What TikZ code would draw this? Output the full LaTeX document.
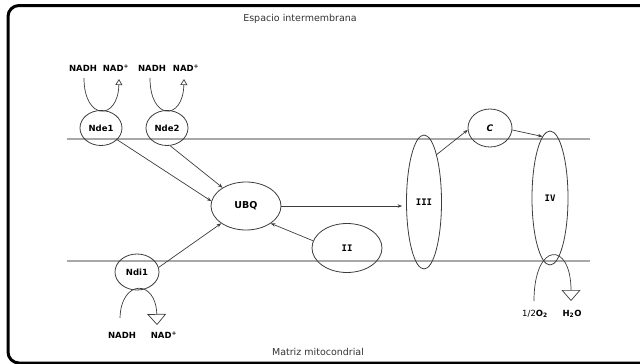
\documentclass[tikz,border=0pt]{standalone}
\usepackage{fontspec}
\setmainfont{DejaVu Sans}
\newfontfamily\monob{DejaVu Sans Mono}
\usetikzlibrary{shapes.geometric,arrows.meta}
\definecolor{linec}{HTML}{3C3C3C}
\definecolor{membc}{HTML}{A8A8A8}
\begin{document}
\begin{tikzpicture}[x=1pt,y=-1pt,
  cpx/.style={ellipse, draw=linec, line width=0.8pt, inner sep=0pt,
    font=\fontsize{8.5}{10}\selectfont\bfseries, text=black},
  lbl/.style={font=\fontsize{8.5}{10}\selectfont\bfseries, inner sep=0pt, text=black},
  small/.style={font=\fontsize{9.5}{11}\selectfont, inner sep=0pt, text=black!80},
  conn/.style={draw=linec, line width=0.7pt, -{Stealth[length=4.5pt,width=3.5pt]}},
  loopsm/.style={draw=linec, line width=0.7pt, -{Triangle[open,length=6pt,width=7pt,fill=white]}},
  loopbig/.style={draw=linec, line width=0.7pt, -{Triangle[open,length=11pt,width=19pt,fill=white]}},
  memb/.style={draw=membc, line width=2pt}
]
\useasboundingbox (0,0) rectangle (640,364);
\begin{scope}
\clip (0,0) rectangle (640,364);
\draw[line width=3pt, rounded corners=11pt] (8,5.5) rectangle (670,363);
\end{scope}

% texts
\node[small] (esp) at (300,19) {Espacio intermembrana};
\node[small] (mat) at (318,352) {Matriz mitocondrial};

% membranes
\coordinate (m1a) at (67,139); \coordinate (m1b) at (590,139);
\coordinate (m2a) at (67,261); \coordinate (m2b) at (590,261);
\draw[memb] (m1a) -- (m1b);
\draw[memb] (m2a) -- (m2b);

% complexes
\node[cpx, minimum width=42pt, minimum height=35pt] (Nde1) at (101,128) {Nde1};
\node[cpx, minimum width=42pt, minimum height=35pt] (Nde2) at (167,128) {Nde2};
\node[cpx, minimum width=44pt, minimum height=36pt] (Ndi1) at (137,272) {Ndi1};
\node[cpx, minimum width=70pt, minimum height=48pt, font=\fontsize{9.5}{10}\selectfont\bfseries] (UBQ) at (246,206) {UBQ};
\node[cpx, minimum width=70pt, minimum height=49pt, font=\fontsize{9}{10}\selectfont\monob\bfseries] (II) at (347,248) {II};
\node[cpx, minimum width=35pt, minimum height=134pt, font=\fontsize{9}{10}\selectfont\monob\bfseries] (III) at (424,202) {III};
\node[cpx, minimum width=44pt, minimum height=38pt, font=\fontsize{9}{10}\selectfont\bfseries\itshape] (C) at (490,128) {C};
\node[cpx, minimum width=36pt, minimum height=134pt, font=\fontsize{9}{10}\selectfont\monob\bfseries] (IV) at (550,198) {IV};

% NADH labels
\node[lbl] (nadh1) at (83,68) {NADH};
\node[lbl] (nad1) at (116,68) {NAD\textsuperscript{+}};
\node[lbl] (nadh2) at (152,68) {NADH};
\node[lbl] (nad2) at (186,68) {NAD\textsuperscript{+}};
\node[lbl] (nadh3) at (122,335) {NADH};
\node[lbl] (nad3) at (164,335) {NAD\textsuperscript{+}};
\node[lbl] (o2) at (535,314) {\mdseries 1/2\bfseries O\textsubscript{2}};
\node[lbl] (h2o) at (572,314) {H\textsubscript{2}O};

% redox loops
\coordinate (a1) at (84,78); \coordinate (b1) at (119,79);
\coordinate (a2) at (150,78); \coordinate (b2) at (184,79);
\coordinate (a3) at (120,318); \coordinate (b3) at (157,325);
\coordinate (a4) at (534,301); \coordinate (b4) at (571,301);
\draw[loopsm] (a1) .. controls (84,121) and (118,121) .. (b1);
\draw[loopsm] (a2) .. controls (150,121) and (183,121) .. (b2);
\draw[loopbig] (a3) .. controls (121,279) and (156,279) .. (b3);
\draw[loopbig] (a4) .. controls (534,241) and (571,241) .. (b4);

% electron flow
\draw[conn] (Nde1.-36) -- (UBQ.172);
\draw[conn] (Nde2.-80) -- (UBQ.142);
\draw[conn] (Ndi1.12) -- (UBQ.-145);
\draw[conn] (II.168) -- (UBQ.-35);
\draw[conn, shorten >=4pt] (UBQ.east) -- (UBQ.east -| III.west);
\draw[conn] (III.75) -- (C.185);
\draw[conn] (C.-5) -- (IV.97);
\end{tikzpicture}
\end{document}
